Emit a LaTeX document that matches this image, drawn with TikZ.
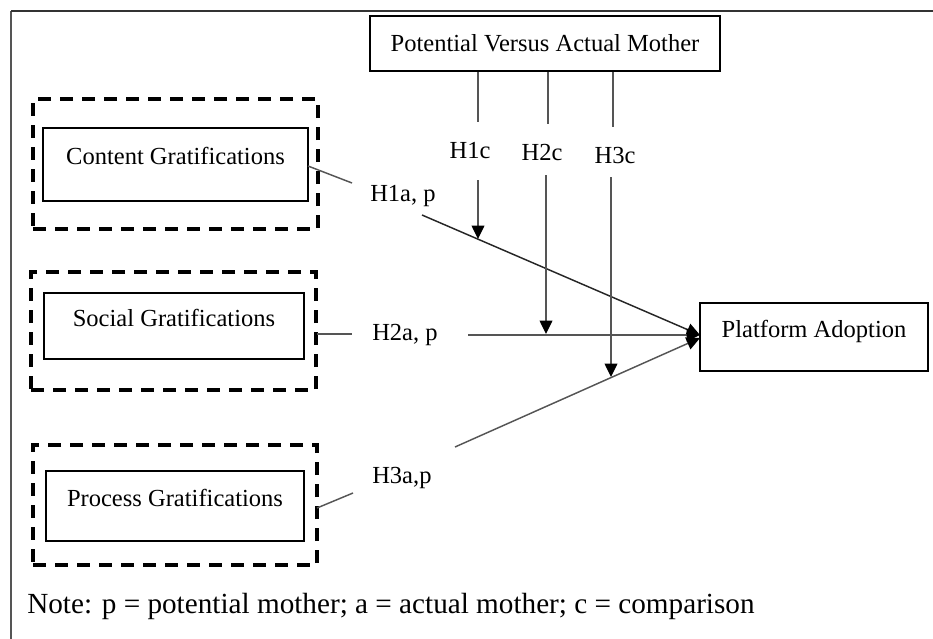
\documentclass[tikz,border=0pt]{standalone}
\usepackage{fontspec}
\setmainfont{Liberation Serif}
\usetikzlibrary{arrows.meta}
\definecolor{ln}{HTML}{555555}
\begin{document}
\begin{tikzpicture}[x=0.75pt,y=-0.75pt,
  font=\fontsize{18.4}{22}\selectfont,
  gbox/.style={draw=black, line width=1.5pt, inner sep=0pt, text height=9pt, text depth=9pt},
  dbox/.style={draw=black, line width=3pt, dash pattern=on 10pt off 6.5pt, inner sep=0pt},
  thin/.style={draw=ln, line width=1.1pt},
  dark/.style={draw=black!85, line width=1.1pt},
  tip/.style={-{Triangle[length=10pt,width=9.5pt,color=black]}},
  lbl/.style={inner sep=0pt, anchor=base}
]
\useasboundingbox (0,0) rectangle (933,639);
% frame
\draw[draw=ln, line width=1.2pt] (11,639) -- (11,11);
\draw[draw=black!80, line width=1.2pt] (11,11) -- (933,11);

% top moderator box
\node[draw=black, line width=1.5pt, minimum width=262.5pt, minimum height=41.25pt, inner sep=0pt] (pv) at (545,43.5) {Potential Versus Actual Mother};

% left boxes
\node[dbox, minimum width=213.75pt, minimum height=97.5pt] (cgo) at (175.5,164) {};
\node[gbox, minimum width=198.75pt, minimum height=54.75pt] (cg) at (175.5,164.5) {Content Gratifications};

\node[dbox, minimum width=213.75pt, minimum height=88.5pt] (sgo) at (173.5,331) {};
\node[gbox, minimum width=195pt, minimum height=49.5pt] (sg) at (174,326) {Social Gratifications};

\node[dbox, minimum width=213pt, minimum height=90pt] (pgo) at (175,505) {};
\node[gbox, minimum width=193.5pt, minimum height=52.5pt] (pg) at (175,506) {Process Gratifications};

% outcome
\node[gbox, minimum width=171pt, minimum height=51pt] (pa) at (814,337) {Platform Adoption};

% hypothesis labels
\node[lbl, anchor=base west] (h1a) at (370,201) {H1a, p};
\node[lbl, anchor=base west] (h2a) at (372,340) {H2a, p};
\node[lbl, anchor=base west] (h3a) at (372,483) {H3a,p};
\node[lbl] (h1c) at (470,158) {H1c};
\node[lbl] (h2c) at (542,160) {H2c};
\node[lbl] (h3c) at (615,163) {H3c};

% coordinates for connector breaks
\coordinate (a1s) at (308,166);
\coordinate (a1e) at (352,183);
\coordinate (a1r) at (422,215);
\coordinate (a2s) at (317,334);
\coordinate (a2e) at (352,334);
\coordinate (a2r) at (468,335);
\coordinate (a3s) at (317,508);
\coordinate (a3e) at (353,493);
\coordinate (a3r) at (455,447);
\coordinate (t1) at (700,335);
\coordinate (t2) at (700,335);
\coordinate (t3) at (700,338);

\coordinate (v1e) at (478,122);
\coordinate (v2e) at (548,124);
\coordinate (v3e) at (613,127);
\coordinate (m1s) at (478,180);
\coordinate (m2s) at (546,175);
\coordinate (m3s) at (611,177);
\coordinate (m1t) at (478,239);
\coordinate (m2t) at (546,334);
\coordinate (m3t) at (611,377);

% main paths
\draw[thin] (a1s) -- (a1e);
\draw[dark, tip] (a1r) -- (t1);
\draw[thin] (a2s) -- (a2e);
\draw[thin, tip] (a2r) -- (t2);
\draw[thin] (a3s) -- (a3e);
\draw[thin, tip] (a3r) -- (t3);

% moderator lines
\draw[thin] (pv.south -| v1e) -- (v1e);
\draw[thin] (pv.south -| v2e) -- (v2e);
\draw[thin] (pv.south -| v3e) -- (v3e);
\draw[thin, tip] (m1s) -- (m1t);
\draw[thin, tip] (m2s) -- (m2t);
\draw[thin, tip] (m3s) -- (m3t);

% note
\node[inner sep=0pt, anchor=base west, font=\fontsize{21.9}{26}\selectfont] (note) at (27,613) {Note: p = potential mother; a = actual mother; c = comparison};
\end{tikzpicture}
\end{document}
